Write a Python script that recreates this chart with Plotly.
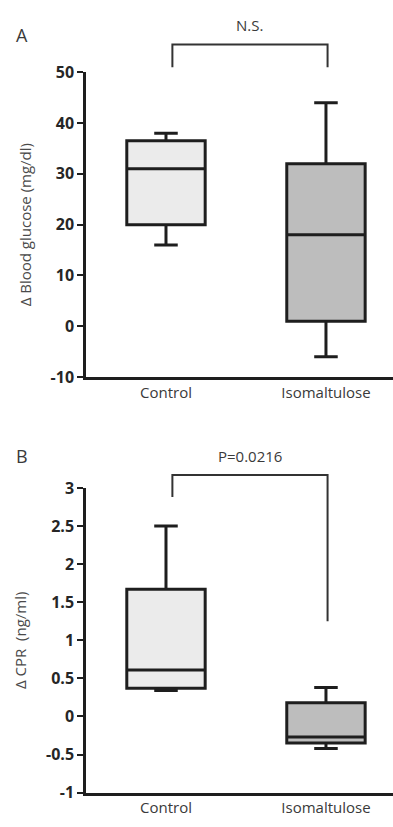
import plotly.graph_objects as go

# ---------------- data ----------------
categories = ["Control", "Isomaltulose"]

# Panel A: Δ Blood glucose (mg/dl)
a_lower = [16, -6]
a_q1 = [20, 1]
a_median = [31, 18]
a_q3 = [36.5, 32]
a_upper = [38, 44]
a_ticks = [-10, 0, 10, 20, 30, 40, 50]
a_tick_text = ["-10", "0", "10", "20", "30", "40", "50"]
a_range = [-10, 50]
a_bracket = [55.5, 51.0, 51.0]   # top, left leg end, right leg end
a_sig = "N.S."

# Panel B: Δ CPR (ng/ml)
b_lower = [0.34, -0.42]
b_q1 = [0.37, -0.35]
b_median = [0.61, -0.27]
b_q3 = [1.67, 0.18]
b_upper = [2.5, 0.38]
b_ticks = [-1, -0.5, 0, 0.5, 1, 1.5, 2, 2.5, 3]
b_tick_text = ["-1", "-0.5", "0", "0.5", "1", "1.5", "2", "2.5", "3"]
b_range = [-1, 3]
b_bracket = [3.17, 2.88, 1.25]
b_sig = "P=0.0216"

bracket_x = [0.04, 1.01]

fills = ["#ebebeb", "#bdbdbd"]
INK = "#1e1e1e"
TXT = "#3a3a3a"

W, H = 393, 827
xdom = [86 / W, 1.0]
a_dom = [1 - 376 / H, 1 - 63 / H]
b_dom = [1 - 803 / H, 1 - 490 / H]

fig = go.Figure()

def add_boxes(xa, ya, lo, q1, med, q3, hi):
    for i, cat in enumerate(categories):
        fig.add_trace(go.Box(
            x=[i], q1=[q1[i]], median=[med[i]], q3=[q3[i]],
            lowerfence=[lo[i]], upperfence=[hi[i]],
            width=0.49, whiskerwidth=0.3,
            fillcolor=fills[i], line=dict(color=INK, width=3),
            boxpoints=False, showlegend=False, hoverinfo="skip",
            xaxis=xa, yaxis=ya))

add_boxes("x", "y", a_lower, a_q1, a_median, a_q3, a_upper)
add_boxes("x2", "y2", b_lower, b_q1, b_median, b_q3, b_upper)

def bold(labels):
    return [f"<b>{t}</b>" for t in labels]

xcommon = dict(range=[-0.5, 1.419], tickvals=[0, 1], ticktext=categories,
               showline=True, linecolor=INK, linewidth=2.5, ticks="",
               showgrid=False, zeroline=False, fixedrange=True,
               tickfont=dict(family="Open Sans", size=15, color=TXT),
               domain=xdom)
ycommon = dict(showline=True, linecolor=INK, linewidth=2.5, ticks="outside",
               ticklen=6, tickwidth=2, tickcolor=INK, showgrid=False,
               zeroline=False, fixedrange=True,
               tickfont=dict(family="Open Sans", size=16, color="#262626"))

fig.update_layout(
    width=W, height=H, margin=dict(l=0, r=0, t=0, b=0),
    paper_bgcolor="white", plot_bgcolor="white",
    xaxis=dict(**xcommon, anchor="y"),
    xaxis2=dict(**xcommon, anchor="y2"),
    yaxis=dict(**ycommon, range=a_range, tickvals=a_ticks, ticktext=bold(a_tick_text),
               domain=a_dom, anchor="x",
               title=dict(text="Δ Blood glucose (mg/dl)", standoff=16,
                          font=dict(family="Open Sans", size=15, color="#4a4a4a"))),
    yaxis2=dict(**ycommon, range=b_range, tickvals=b_ticks, ticktext=bold(b_tick_text),
                domain=b_dom, anchor="x2",
                title=dict(text="Δ CPR\u00a0\u00a0(ng/ml)", standoff=16,
                           font=dict(family="Open Sans", size=15, color="#4a4a4a"))),
)

def frac(v, rng):
    return (v - rng[0]) / (rng[1] - rng[0])

def bracket(xref, yref, rng, br, label):
    top, lend, rend = br
    x0, x1 = bracket_x
    path = (f"M {x0} {frac(lend, rng)} L {x0} {frac(top, rng)} "
            f"L {x1} {frac(top, rng)} L {x1} {frac(rend, rng)}")
    fig.add_shape(type="path", path=path, xref=xref, yref=yref + " domain",
                  line=dict(color="#333", width=2))
    fig.add_annotation(x=(x0 + x1) / 2, y=frac(top, rng), xref=xref, yref=yref + " domain",
                       text=label, showarrow=False, yanchor="bottom", yshift=7,
                       font=dict(family="Open Sans", size=15, color=TXT))

bracket("x", "y", a_range, a_bracket, a_sig)
bracket("x2", "y2", b_range, b_bracket, b_sig)

for txt, ypx in [("A", 25), ("B", 457)]:
    fig.add_annotation(x=14 / W, y=1 - ypx / H, xref="paper", yref="paper",
                       text=txt, showarrow=False, xanchor="left", yanchor="middle",
                       font=dict(family="Open Sans", size=18, color=TXT))

fig.write_html("out.html", config={"displayModeBar": False},
               post_script="document.body.style.margin='0';")
